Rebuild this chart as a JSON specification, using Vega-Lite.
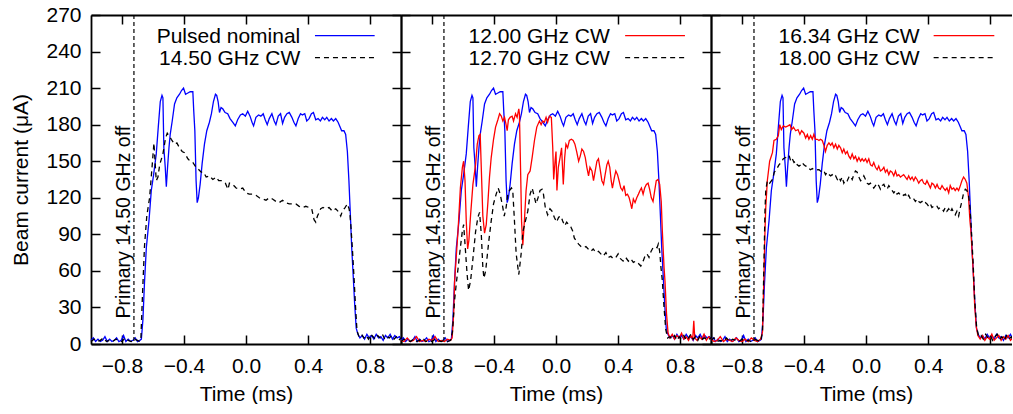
{
 "$schema": "https://vega.github.io/schema/vega-lite/v6.json",
 "background": "white",
 "padding": {"left": 10, "top": 4, "right": 0, "bottom": 0},
 "bounds": "flush",
 "spacing": 0,
 "config": {
  "font": "Liberation Sans",
  "view": {"stroke": null},
  "axis": {"grid": false, "domainColor": "black", "domainWidth": 1.8, "tickColor": "black", "tickWidth": 1.5, "tickSize": -9, "labelFontSize": 21, "titleFontSize": 21, "titleFontWeight": "normal", "labelColor": "black", "titleColor": "black", "labelFont": "Liberation Sans", "titleFont": "Liberation Sans", "labelFlush": false, "labelOverlap": false},
  "axisBottom": {"labelPadding": 20.5, "titlePadding": 6.5},
  "axisLeft": {"labelPadding": 19, "titlePadding": 14},
  "text": {"font": "Liberation Sans", "fontSize": 21}
 },
 "datasets": {
  "blue": [{"t":-1,"i":3},{"t":-0.985,"i":5},{"t":-0.97,"i":2},{"t":-0.955,"i":4},{"t":-0.94,"i":2},{"t":-0.925,"i":3},{"t":-0.91,"i":6},{"t":-0.895,"i":2},{"t":-0.88,"i":4},{"t":-0.865,"i":2},{"t":-0.85,"i":3},{"t":-0.835,"i":5},{"t":-0.82,"i":2},{"t":-0.805,"i":3},{"t":-0.79,"i":7},{"t":-0.775,"i":2},{"t":-0.76,"i":4},{"t":-0.745,"i":2},{"t":-0.73,"i":3},{"t":-0.715,"i":5},{"t":-0.7,"i":2},{"t":-0.685,"i":3},{"t":-0.675,"i":4},{"t":-0.665,"i":20},{"t":-0.655,"i":50},{"t":-0.643,"i":79},{"t":-0.626,"i":101},{"t":-0.611,"i":126},{"t":-0.596,"i":139},{"t":-0.579,"i":156},{"t":-0.566,"i":178},{"t":-0.553,"i":199},{"t":-0.542,"i":204},{"t":-0.536,"i":202},{"t":-0.53,"i":161},{"t":-0.521,"i":145},{"t":-0.514,"i":129},{"t":-0.506,"i":145},{"t":-0.497,"i":161},{"t":-0.489,"i":172},{"t":-0.476,"i":183},{"t":-0.461,"i":197},{"t":-0.446,"i":202},{"t":-0.429,"i":205},{"t":-0.416,"i":208},{"t":-0.403,"i":210},{"t":-0.39,"i":205},{"t":-0.375,"i":206},{"t":-0.36,"i":207},{"t":-0.343,"i":207},{"t":-0.337,"i":191},{"t":-0.33,"i":175},{"t":-0.322,"i":134},{"t":-0.315,"i":116},{"t":-0.307,"i":120},{"t":-0.296,"i":131},{"t":-0.283,"i":148},{"t":-0.268,"i":164},{"t":-0.253,"i":175},{"t":-0.236,"i":182},{"t":-0.223,"i":189},{"t":-0.21,"i":199},{"t":-0.197,"i":205},{"t":-0.189,"i":204},{"t":-0.18,"i":199},{"t":-0.171,"i":190},{"t":-0.161,"i":194},{"t":-0.15,"i":193},{"t":-0.135,"i":190},{"t":-0.118,"i":189},{"t":-0.103,"i":185},{"t":-0.086,"i":182},{"t":-0.069,"i":179},{"t":-0.054,"i":184},{"t":-0.036,"i":188},{"t":-0.021,"i":189},{"t":-0.004,"i":187},{"t":0.011,"i":191},{"t":0.026,"i":187},{"t":0.039,"i":182},{"t":0.049,"i":179},{"t":0.064,"i":186},{"t":0.081,"i":188},{"t":0.096,"i":187},{"t":0.111,"i":189},{"t":0.124,"i":184},{"t":0.137,"i":180},{"t":0.15,"i":185},{"t":0.167,"i":189},{"t":0.182,"i":183},{"t":0.193,"i":180},{"t":0.208,"i":187},{"t":0.223,"i":189},{"t":0.236,"i":181},{"t":0.249,"i":186},{"t":0.264,"i":189},{"t":0.279,"i":190},{"t":0.296,"i":186},{"t":0.309,"i":182},{"t":0.322,"i":179},{"t":0.337,"i":185},{"t":0.352,"i":189},{"t":0.364,"i":188},{"t":0.379,"i":189},{"t":0.392,"i":183},{"t":0.407,"i":185},{"t":0.422,"i":189},{"t":0.435,"i":190},{"t":0.45,"i":184},{"t":0.465,"i":185},{"t":0.48,"i":183},{"t":0.493,"i":186},{"t":0.508,"i":184},{"t":0.521,"i":186},{"t":0.536,"i":183},{"t":0.551,"i":185},{"t":0.564,"i":183},{"t":0.579,"i":185},{"t":0.594,"i":182},{"t":0.607,"i":178},{"t":0.617,"i":175},{"t":0.632,"i":175},{"t":0.643,"i":172},{"t":0.654,"i":158},{"t":0.664,"i":134},{"t":0.675,"i":101},{"t":0.682,"i":79},{"t":0.69,"i":60},{"t":0.701,"i":33},{"t":0.711,"i":13},{"t":0.722,"i":8},{"t":0.735,"i":5},{"t":0.75,"i":7},{"t":0.765,"i":4},{"t":0.78,"i":8},{"t":0.795,"i":5},{"t":0.81,"i":7},{"t":0.825,"i":4},{"t":0.84,"i":8},{"t":0.855,"i":5},{"t":0.87,"i":6},{"t":0.885,"i":3},{"t":0.9,"i":7},{"t":0.915,"i":5},{"t":0.93,"i":8},{"t":0.945,"i":4},{"t":0.96,"i":7},{"t":0.975,"i":5},{"t":0.99,"i":6},{"t":1,"i":4}],
  "c1450": [{"t":-1,"i":2},{"t":-0.98,"i":4},{"t":-0.96,"i":2},{"t":-0.94,"i":3},{"t":-0.92,"i":5},{"t":-0.9,"i":2},{"t":-0.88,"i":3},{"t":-0.86,"i":2},{"t":-0.84,"i":4},{"t":-0.82,"i":3},{"t":-0.8,"i":2},{"t":-0.78,"i":5},{"t":-0.76,"i":3},{"t":-0.74,"i":2},{"t":-0.72,"i":4},{"t":-0.7,"i":3},{"t":-0.685,"i":2},{"t":-0.678,"i":5},{"t":-0.668,"i":40},{"t":-0.655,"i":80},{"t":-0.64,"i":105},{"t":-0.622,"i":120},{"t":-0.605,"i":147},{"t":-0.594,"i":165},{"t":-0.579,"i":134},{"t":-0.568,"i":137},{"t":-0.557,"i":147},{"t":-0.536,"i":156},{"t":-0.519,"i":169},{"t":-0.508,"i":173},{"t":-0.497,"i":171},{"t":-0.482,"i":168},{"t":-0.461,"i":164},{"t":-0.446,"i":165},{"t":-0.429,"i":161},{"t":-0.412,"i":158},{"t":-0.397,"i":157},{"t":-0.375,"i":152},{"t":-0.36,"i":150},{"t":-0.343,"i":149},{"t":-0.322,"i":145},{"t":-0.304,"i":143},{"t":-0.289,"i":141},{"t":-0.274,"i":141},{"t":-0.257,"i":137},{"t":-0.236,"i":138},{"t":-0.214,"i":135},{"t":-0.193,"i":137},{"t":-0.176,"i":134},{"t":-0.154,"i":134},{"t":-0.133,"i":132},{"t":-0.116,"i":127},{"t":-0.107,"i":132},{"t":-0.086,"i":131},{"t":-0.064,"i":128},{"t":-0.043,"i":127},{"t":-0.021,"i":128},{"t":0,"i":124},{"t":0.021,"i":123},{"t":0.043,"i":123},{"t":0.064,"i":122},{"t":0.086,"i":120},{"t":0.107,"i":119},{"t":0.129,"i":118},{"t":0.15,"i":120},{"t":0.171,"i":119},{"t":0.193,"i":117},{"t":0.214,"i":116},{"t":0.236,"i":118},{"t":0.257,"i":116},{"t":0.279,"i":115},{"t":0.3,"i":115},{"t":0.322,"i":115},{"t":0.343,"i":113},{"t":0.364,"i":112},{"t":0.386,"i":113},{"t":0.407,"i":112},{"t":0.424,"i":111},{"t":0.439,"i":102},{"t":0.45,"i":100},{"t":0.461,"i":105},{"t":0.472,"i":108},{"t":0.482,"i":111},{"t":0.497,"i":112},{"t":0.514,"i":111},{"t":0.536,"i":112},{"t":0.557,"i":109},{"t":0.579,"i":111},{"t":0.6,"i":108},{"t":0.611,"i":105},{"t":0.622,"i":109},{"t":0.639,"i":112},{"t":0.654,"i":115},{"t":0.665,"i":111},{"t":0.671,"i":106},{"t":0.677,"i":96},{"t":0.686,"i":79},{"t":0.698,"i":52},{"t":0.707,"i":30},{"t":0.716,"i":11},{"t":0.729,"i":6},{"t":0.745,"i":8},{"t":0.76,"i":5},{"t":0.775,"i":7},{"t":0.79,"i":4},{"t":0.805,"i":8},{"t":0.82,"i":6},{"t":0.835,"i":4},{"t":0.85,"i":7},{"t":0.865,"i":5},{"t":0.88,"i":8},{"t":0.895,"i":4},{"t":0.91,"i":6},{"t":0.925,"i":5},{"t":0.94,"i":7},{"t":0.955,"i":4},{"t":0.97,"i":6},{"t":0.985,"i":3},{"t":1,"i":5}],
  "c1200": [{"t":-1,"i":3},{"t":-0.98,"i":2},{"t":-0.96,"i":5},{"t":-0.94,"i":2},{"t":-0.92,"i":3},{"t":-0.9,"i":6},{"t":-0.88,"i":2},{"t":-0.86,"i":3},{"t":-0.84,"i":2},{"t":-0.82,"i":4},{"t":-0.8,"i":3},{"t":-0.78,"i":6},{"t":-0.76,"i":2},{"t":-0.74,"i":3},{"t":-0.72,"i":2},{"t":-0.7,"i":4},{"t":-0.68,"i":3},{"t":-0.67,"i":5},{"t":-0.66,"i":25},{"t":-0.654,"i":52},{"t":-0.632,"i":93},{"t":-0.617,"i":128},{"t":-0.604,"i":145},{"t":-0.596,"i":150},{"t":-0.587,"i":134},{"t":-0.579,"i":101},{"t":-0.57,"i":78},{"t":-0.562,"i":85},{"t":-0.551,"i":106},{"t":-0.536,"i":131},{"t":-0.519,"i":147},{"t":-0.508,"i":164},{"t":-0.497,"i":171},{"t":-0.489,"i":172},{"t":-0.472,"i":105},{"t":-0.461,"i":91},{"t":-0.45,"i":98},{"t":-0.439,"i":117},{"t":-0.429,"i":137},{"t":-0.418,"i":153},{"t":-0.403,"i":168},{"t":-0.39,"i":178},{"t":-0.375,"i":184},{"t":-0.364,"i":189},{"t":-0.353,"i":187},{"t":-0.343,"i":183},{"t":-0.332,"i":186},{"t":-0.322,"i":180},{"t":-0.315,"i":175},{"t":-0.307,"i":184},{"t":-0.296,"i":186},{"t":-0.283,"i":187},{"t":-0.274,"i":183},{"t":-0.261,"i":189},{"t":-0.251,"i":186},{"t":-0.24,"i":193},{"t":-0.236,"i":189},{"t":-0.228,"i":140},{"t":-0.222,"i":100},{"t":-0.214,"i":81},{"t":-0.204,"i":101},{"t":-0.193,"i":126},{"t":-0.182,"i":139},{"t":-0.167,"i":142},{"t":-0.154,"i":153},{"t":-0.139,"i":167},{"t":-0.124,"i":178},{"t":-0.107,"i":183},{"t":-0.096,"i":180},{"t":-0.086,"i":183},{"t":-0.075,"i":182},{"t":-0.064,"i":186},{"t":-0.054,"i":182},{"t":-0.043,"i":187},{"t":-0.03,"i":186},{"t":-0.021,"i":161},{"t":-0.015,"i":135},{"t":-0.006,"i":150},{"t":0,"i":158},{"t":0.006,"i":126},{"t":0.015,"i":145},{"t":0.026,"i":153},{"t":0.036,"i":161},{"t":0.047,"i":131},{"t":0.056,"i":153},{"t":0.064,"i":164},{"t":0.075,"i":161},{"t":0.086,"i":167},{"t":0.099,"i":168},{"t":0.111,"i":167},{"t":0.122,"i":164},{"t":0.133,"i":158},{"t":0.146,"i":150},{"t":0.156,"i":154},{"t":0.167,"i":160},{"t":0.178,"i":158},{"t":0.189,"i":153},{"t":0.199,"i":145},{"t":0.21,"i":138},{"t":0.219,"i":145},{"t":0.232,"i":142},{"t":0.242,"i":134},{"t":0.253,"i":142},{"t":0.264,"i":150},{"t":0.274,"i":152},{"t":0.283,"i":145},{"t":0.296,"i":134},{"t":0.307,"i":131},{"t":0.317,"i":139},{"t":0.328,"i":147},{"t":0.337,"i":150},{"t":0.347,"i":145},{"t":0.356,"i":134},{"t":0.364,"i":128},{"t":0.377,"i":137},{"t":0.386,"i":142},{"t":0.397,"i":139},{"t":0.407,"i":134},{"t":0.418,"i":128},{"t":0.429,"i":126},{"t":0.439,"i":130},{"t":0.45,"i":122},{"t":0.461,"i":123},{"t":0.472,"i":120},{"t":0.482,"i":115},{"t":0.489,"i":111},{"t":0.499,"i":119},{"t":0.51,"i":116},{"t":0.521,"i":120},{"t":0.532,"i":123},{"t":0.542,"i":126},{"t":0.551,"i":128},{"t":0.562,"i":123},{"t":0.572,"i":128},{"t":0.583,"i":131},{"t":0.594,"i":132},{"t":0.604,"i":127},{"t":0.615,"i":120},{"t":0.626,"i":117},{"t":0.637,"i":126},{"t":0.647,"i":134},{"t":0.658,"i":135},{"t":0.669,"i":131},{"t":0.679,"i":117},{"t":0.686,"i":93},{"t":0.697,"i":63},{"t":0.703,"i":52},{"t":0.713,"i":25},{"t":0.723,"i":9},{"t":0.735,"i":5},{"t":0.75,"i":8},{"t":0.765,"i":4},{"t":0.78,"i":7},{"t":0.795,"i":5},{"t":0.81,"i":9},{"t":0.825,"i":4},{"t":0.84,"i":6},{"t":0.855,"i":3},{"t":0.87,"i":7},{"t":0.882,"i":4},{"t":0.889,"i":19},{"t":0.895,"i":5},{"t":0.91,"i":3},{"t":0.925,"i":6},{"t":0.94,"i":4},{"t":0.955,"i":8},{"t":0.97,"i":3},{"t":0.985,"i":6},{"t":1,"i":4}],
  "c1270": [{"t":-1,"i":2},{"t":-0.98,"i":4},{"t":-0.96,"i":3},{"t":-0.94,"i":2},{"t":-0.92,"i":4},{"t":-0.9,"i":2},{"t":-0.88,"i":3},{"t":-0.86,"i":5},{"t":-0.84,"i":2},{"t":-0.82,"i":3},{"t":-0.8,"i":2},{"t":-0.78,"i":4},{"t":-0.76,"i":3},{"t":-0.74,"i":2},{"t":-0.72,"i":3},{"t":-0.7,"i":2},{"t":-0.68,"i":3},{"t":-0.668,"i":10},{"t":-0.655,"i":35},{"t":-0.643,"i":50},{"t":-0.632,"i":62},{"t":-0.617,"i":79},{"t":-0.604,"i":93},{"t":-0.596,"i":98},{"t":-0.587,"i":82},{"t":-0.574,"i":58},{"t":-0.564,"i":44},{"t":-0.551,"i":52},{"t":-0.536,"i":70},{"t":-0.519,"i":92},{"t":-0.504,"i":104},{"t":-0.493,"i":108},{"t":-0.482,"i":90},{"t":-0.472,"i":63},{"t":-0.465,"i":54},{"t":-0.454,"i":60},{"t":-0.433,"i":85},{"t":-0.418,"i":101},{"t":-0.403,"i":115},{"t":-0.386,"i":123},{"t":-0.373,"i":128},{"t":-0.36,"i":123},{"t":-0.343,"i":112},{"t":-0.334,"i":105},{"t":-0.322,"i":112},{"t":-0.311,"i":123},{"t":-0.3,"i":126},{"t":-0.287,"i":128},{"t":-0.279,"i":126},{"t":-0.268,"i":101},{"t":-0.257,"i":74},{"t":-0.24,"i":57},{"t":-0.225,"i":74},{"t":-0.214,"i":92},{"t":-0.197,"i":101},{"t":-0.182,"i":109},{"t":-0.167,"i":123},{"t":-0.154,"i":128},{"t":-0.144,"i":123},{"t":-0.129,"i":115},{"t":-0.116,"i":120},{"t":-0.103,"i":126},{"t":-0.09,"i":127},{"t":-0.081,"i":123},{"t":-0.069,"i":112},{"t":-0.054,"i":106},{"t":-0.039,"i":111},{"t":-0.026,"i":109},{"t":-0.011,"i":104},{"t":0.004,"i":100},{"t":0.017,"i":104},{"t":0.032,"i":105},{"t":0.043,"i":101},{"t":0.056,"i":97},{"t":0.069,"i":100},{"t":0.081,"i":98},{"t":0.096,"i":96},{"t":0.107,"i":93},{"t":0.118,"i":87},{"t":0.129,"i":85},{"t":0.146,"i":82},{"t":0.161,"i":80},{"t":0.178,"i":79},{"t":0.193,"i":80},{"t":0.208,"i":78},{"t":0.225,"i":76},{"t":0.24,"i":78},{"t":0.257,"i":75},{"t":0.274,"i":76},{"t":0.289,"i":74},{"t":0.304,"i":72},{"t":0.322,"i":75},{"t":0.337,"i":71},{"t":0.354,"i":72},{"t":0.369,"i":70},{"t":0.386,"i":71},{"t":0.401,"i":74},{"t":0.416,"i":70},{"t":0.433,"i":68},{"t":0.45,"i":71},{"t":0.467,"i":68},{"t":0.482,"i":70},{"t":0.499,"i":67},{"t":0.514,"i":68},{"t":0.532,"i":66},{"t":0.547,"i":64},{"t":0.562,"i":68},{"t":0.574,"i":72},{"t":0.587,"i":74},{"t":0.6,"i":71},{"t":0.613,"i":76},{"t":0.626,"i":79},{"t":0.639,"i":80},{"t":0.652,"i":79},{"t":0.66,"i":82},{"t":0.669,"i":76},{"t":0.677,"i":63},{"t":0.686,"i":52},{"t":0.697,"i":30},{"t":0.708,"i":12},{"t":0.72,"i":5},{"t":0.735,"i":6},{"t":0.75,"i":4},{"t":0.765,"i":7},{"t":0.78,"i":3},{"t":0.795,"i":6},{"t":0.81,"i":4},{"t":0.825,"i":7},{"t":0.84,"i":3},{"t":0.855,"i":5},{"t":0.87,"i":8},{"t":0.885,"i":4},{"t":0.9,"i":6},{"t":0.915,"i":3},{"t":0.93,"i":7},{"t":0.945,"i":4},{"t":0.96,"i":5},{"t":0.975,"i":3},{"t":1,"i":5}],
  "c1634": [{"t":-1,"i":4},{"t":-0.98,"i":2},{"t":-0.96,"i":3},{"t":-0.94,"i":6},{"t":-0.92,"i":2},{"t":-0.9,"i":4},{"t":-0.88,"i":3},{"t":-0.86,"i":2},{"t":-0.84,"i":5},{"t":-0.82,"i":3},{"t":-0.8,"i":2},{"t":-0.78,"i":4},{"t":-0.76,"i":2},{"t":-0.74,"i":5},{"t":-0.72,"i":3},{"t":-0.7,"i":2},{"t":-0.68,"i":4},{"t":-0.668,"i":10},{"t":-0.658,"i":60},{"t":-0.652,"i":93},{"t":-0.647,"i":112},{"t":-0.637,"i":134},{"t":-0.622,"i":150},{"t":-0.604,"i":157},{"t":-0.594,"i":167},{"t":-0.579,"i":168},{"t":-0.566,"i":171},{"t":-0.557,"i":180},{"t":-0.547,"i":176},{"t":-0.534,"i":179},{"t":-0.519,"i":178},{"t":-0.504,"i":179},{"t":-0.491,"i":180},{"t":-0.48,"i":176},{"t":-0.469,"i":178},{"t":-0.454,"i":175},{"t":-0.439,"i":176},{"t":-0.427,"i":172},{"t":-0.416,"i":175},{"t":-0.401,"i":173},{"t":-0.39,"i":169},{"t":-0.379,"i":172},{"t":-0.369,"i":168},{"t":-0.358,"i":171},{"t":-0.347,"i":168},{"t":-0.337,"i":172},{"t":-0.326,"i":168},{"t":-0.315,"i":168},{"t":-0.304,"i":167},{"t":-0.294,"i":168},{"t":-0.283,"i":167},{"t":-0.272,"i":163},{"t":-0.262,"i":158},{"t":-0.251,"i":163},{"t":-0.24,"i":165},{"t":-0.229,"i":163},{"t":-0.219,"i":165},{"t":-0.208,"i":161},{"t":-0.197,"i":164},{"t":-0.186,"i":160},{"t":-0.176,"i":163},{"t":-0.165,"i":161},{"t":-0.154,"i":157},{"t":-0.144,"i":160},{"t":-0.133,"i":156},{"t":-0.122,"i":158},{"t":-0.111,"i":154},{"t":-0.101,"i":152},{"t":-0.09,"i":156},{"t":-0.079,"i":152},{"t":-0.069,"i":154},{"t":-0.058,"i":150},{"t":-0.047,"i":153},{"t":-0.036,"i":150},{"t":-0.026,"i":152},{"t":-0.015,"i":150},{"t":-0.004,"i":152},{"t":0.006,"i":149},{"t":0.017,"i":152},{"t":0.028,"i":147},{"t":0.039,"i":146},{"t":0.049,"i":149},{"t":0.06,"i":145},{"t":0.071,"i":143},{"t":0.081,"i":146},{"t":0.092,"i":142},{"t":0.103,"i":143},{"t":0.114,"i":145},{"t":0.124,"i":141},{"t":0.135,"i":143},{"t":0.146,"i":139},{"t":0.156,"i":142},{"t":0.167,"i":141},{"t":0.178,"i":138},{"t":0.189,"i":142},{"t":0.199,"i":138},{"t":0.21,"i":139},{"t":0.221,"i":137},{"t":0.232,"i":138},{"t":0.242,"i":139},{"t":0.253,"i":137},{"t":0.264,"i":135},{"t":0.274,"i":138},{"t":0.285,"i":135},{"t":0.296,"i":137},{"t":0.307,"i":134},{"t":0.317,"i":137},{"t":0.328,"i":135},{"t":0.339,"i":132},{"t":0.349,"i":134},{"t":0.36,"i":135},{"t":0.371,"i":132},{"t":0.382,"i":131},{"t":0.392,"i":134},{"t":0.403,"i":131},{"t":0.414,"i":128},{"t":0.424,"i":132},{"t":0.435,"i":131},{"t":0.446,"i":128},{"t":0.457,"i":131},{"t":0.467,"i":128},{"t":0.478,"i":127},{"t":0.489,"i":130},{"t":0.499,"i":128},{"t":0.51,"i":126},{"t":0.521,"i":128},{"t":0.532,"i":124},{"t":0.542,"i":130},{"t":0.553,"i":127},{"t":0.564,"i":128},{"t":0.574,"i":126},{"t":0.585,"i":128},{"t":0.596,"i":126},{"t":0.607,"i":130},{"t":0.617,"i":134},{"t":0.628,"i":137},{"t":0.639,"i":135},{"t":0.649,"i":132},{"t":0.66,"i":120},{"t":0.669,"i":101},{"t":0.675,"i":93},{"t":0.69,"i":60},{"t":0.7,"i":30},{"t":0.71,"i":14},{"t":0.72,"i":7},{"t":0.735,"i":4},{"t":0.75,"i":7},{"t":0.765,"i":3},{"t":0.78,"i":6},{"t":0.795,"i":4},{"t":0.81,"i":8},{"t":0.825,"i":3},{"t":0.84,"i":5},{"t":0.855,"i":7},{"t":0.87,"i":3},{"t":0.885,"i":6},{"t":0.9,"i":4},{"t":0.915,"i":7},{"t":0.93,"i":3},{"t":0.945,"i":5},{"t":0.96,"i":3},{"t":0.975,"i":6},{"t":1,"i":4}],
  "c1800": [{"t":-1,"i":3},{"t":-0.98,"i":5},{"t":-0.96,"i":2},{"t":-0.94,"i":3},{"t":-0.92,"i":2},{"t":-0.9,"i":5},{"t":-0.88,"i":2},{"t":-0.86,"i":4},{"t":-0.84,"i":3},{"t":-0.82,"i":2},{"t":-0.8,"i":4},{"t":-0.78,"i":2},{"t":-0.76,"i":3},{"t":-0.74,"i":2},{"t":-0.72,"i":4},{"t":-0.7,"i":3},{"t":-0.68,"i":2},{"t":-0.668,"i":10},{"t":-0.658,"i":70},{"t":-0.652,"i":110},{"t":-0.647,"i":126},{"t":-0.637,"i":134},{"t":-0.622,"i":132},{"t":-0.604,"i":135},{"t":-0.592,"i":141},{"t":-0.579,"i":143},{"t":-0.562,"i":147},{"t":-0.547,"i":149},{"t":-0.534,"i":152},{"t":-0.519,"i":153},{"t":-0.508,"i":154},{"t":-0.497,"i":155},{"t":-0.486,"i":150},{"t":-0.476,"i":152},{"t":-0.465,"i":149},{"t":-0.454,"i":150},{"t":-0.444,"i":147},{"t":-0.433,"i":146},{"t":-0.422,"i":147},{"t":-0.412,"i":149},{"t":-0.401,"i":147},{"t":-0.39,"i":146},{"t":-0.379,"i":146},{"t":-0.369,"i":144},{"t":-0.358,"i":143},{"t":-0.347,"i":144},{"t":-0.337,"i":143},{"t":-0.326,"i":143},{"t":-0.315,"i":143},{"t":-0.304,"i":143},{"t":-0.294,"i":142},{"t":-0.283,"i":141},{"t":-0.272,"i":142},{"t":-0.262,"i":139},{"t":-0.251,"i":141},{"t":-0.24,"i":139},{"t":-0.229,"i":138},{"t":-0.219,"i":139},{"t":-0.208,"i":137},{"t":-0.197,"i":138},{"t":-0.186,"i":135},{"t":-0.176,"i":137},{"t":-0.165,"i":134},{"t":-0.154,"i":137},{"t":-0.144,"i":132},{"t":-0.133,"i":135},{"t":-0.122,"i":134},{"t":-0.111,"i":137},{"t":-0.101,"i":138},{"t":-0.09,"i":135},{"t":-0.079,"i":139},{"t":-0.069,"i":142},{"t":-0.058,"i":141},{"t":-0.047,"i":137},{"t":-0.036,"i":134},{"t":-0.026,"i":135},{"t":-0.015,"i":138},{"t":-0.004,"i":135},{"t":0.006,"i":132},{"t":0.017,"i":131},{"t":0.028,"i":132},{"t":0.039,"i":130},{"t":0.049,"i":128},{"t":0.06,"i":130},{"t":0.071,"i":132},{"t":0.081,"i":130},{"t":0.092,"i":127},{"t":0.103,"i":130},{"t":0.114,"i":131},{"t":0.124,"i":128},{"t":0.135,"i":127},{"t":0.146,"i":130},{"t":0.156,"i":128},{"t":0.167,"i":126},{"t":0.178,"i":124},{"t":0.189,"i":126},{"t":0.199,"i":123},{"t":0.21,"i":124},{"t":0.221,"i":122},{"t":0.232,"i":123},{"t":0.242,"i":122},{"t":0.253,"i":123},{"t":0.264,"i":120},{"t":0.274,"i":122},{"t":0.285,"i":119},{"t":0.296,"i":120},{"t":0.307,"i":119},{"t":0.317,"i":117},{"t":0.328,"i":119},{"t":0.339,"i":117},{"t":0.349,"i":116},{"t":0.36,"i":117},{"t":0.371,"i":115},{"t":0.382,"i":116},{"t":0.392,"i":115},{"t":0.403,"i":113},{"t":0.414,"i":115},{"t":0.424,"i":112},{"t":0.435,"i":113},{"t":0.446,"i":112},{"t":0.457,"i":113},{"t":0.467,"i":111},{"t":0.478,"i":112},{"t":0.489,"i":111},{"t":0.499,"i":109},{"t":0.51,"i":112},{"t":0.521,"i":109},{"t":0.532,"i":111},{"t":0.542,"i":108},{"t":0.553,"i":111},{"t":0.564,"i":108},{"t":0.574,"i":106},{"t":0.585,"i":109},{"t":0.596,"i":105},{"t":0.607,"i":112},{"t":0.617,"i":117},{"t":0.628,"i":124},{"t":0.639,"i":127},{"t":0.649,"i":126},{"t":0.66,"i":122},{"t":0.669,"i":112},{"t":0.677,"i":96},{"t":0.69,"i":65},{"t":0.7,"i":35},{"t":0.712,"i":14},{"t":0.725,"i":6},{"t":0.74,"i":7},{"t":0.755,"i":4},{"t":0.77,"i":8},{"t":0.785,"i":5},{"t":0.8,"i":7},{"t":0.815,"i":3},{"t":0.83,"i":6},{"t":0.845,"i":8},{"t":0.86,"i":4},{"t":0.875,"i":6},{"t":0.89,"i":3},{"t":0.905,"i":7},{"t":0.92,"i":4},{"t":0.935,"i":6},{"t":0.95,"i":3},{"t":0.965,"i":5},{"t":0.98,"i":4},{"t":1,"i":6}]
 },
 "hconcat": [
  {
   "width": 310, "height": 329,
   "layer": [
    {"data": {"name": "blue"}, "mark": {"type": "line", "color": "#0000ff", "strokeWidth": 1.3},
     "encoding": {
      "x": {"field": "t", "type": "quantitative", "scale": {"domain": [-1, 1], "nice": false, "zero": false}, "axis": {"orient": "bottom", "values": [-0.8, -0.4, 0, 0.4, 0.8], "format": ".1f", "title": "Time (ms)"}},
      "y": {"field": "i", "type": "quantitative", "scale": {"domain": [0, 270], "nice": false}, "axis": {"orient": "left", "values": [0, 30, 60, 90, 120, 150, 180, 210, 240, 270], "title": "Beam current (μA)"}}}},
    {"data": {"name": "c1450"}, "mark": {"type": "line", "color": "black", "strokeWidth": 1.3, "strokeDash": [5, 4]},
     "encoding": {
      "x": {"field": "t", "type": "quantitative", "axis": {"orient": "top", "values": [-0.8, -0.4, 0, 0.4, 0.8], "labels": false, "title": null}},
      "y": {"field": "i", "type": "quantitative", "axis": {"orient": "right", "values": [0, 30, 60, 90, 120, 150, 180, 210, 240, 270], "labels": false, "title": null}}}},
    {"data": {"values": [{}]}, "mark": {"type": "rule", "color": "black", "strokeWidth": 1.2, "strokeDash": [4, 3]},
     "encoding": {"x": {"datum": -0.723, "axis": null}}},
    {"data": {"values": [{}]}, "mark": {"type": "text", "angle": 270, "align": "center", "baseline": "middle", "fontSize": 19.5},
     "encoding": {"x": {"datum": -0.79, "axis": null}, "y": {"datum": 100, "axis": null}, "text": {"value": "Primary 14.50 GHz off"}}},
    {"data": {"values": [{}]}, "mark": {"type": "text", "align": "right", "baseline": "middle", "fontSize": 21},
     "encoding": {"x": {"datum": 0.35, "axis": null}, "y": {"datum": 252, "axis": null}, "text": {"value": "Pulsed nominal"}}},
    {"data": {"values": [{}]}, "mark": {"type": "text", "align": "right", "baseline": "middle", "fontSize": 21},
     "encoding": {"x": {"datum": 0.35, "axis": null}, "y": {"datum": 234, "axis": null}, "text": {"value": "14.50 GHz CW"}}},
    {"data": {"values": [{}]}, "mark": {"type": "rule", "color": "#0000ff", "strokeWidth": 1.3},
     "encoding": {"x": {"datum": 0.445, "axis": null}, "x2": {"datum": 0.83}, "y": {"datum": 253, "axis": null}}},
    {"data": {"values": [{}]}, "mark": {"type": "rule", "color": "black", "strokeWidth": 1.3, "strokeDash": [5, 4]},
     "encoding": {"x": {"datum": 0.445, "axis": null}, "x2": {"datum": 0.83}, "y": {"datum": 235, "axis": null}}}
   ],
   "resolve": {"axis": {"x": "independent", "y": "independent"}}
  },
  {
   "width": 310, "height": 329,
   "layer": [
    {"data": {"name": "blue"}, "mark": {"type": "line", "color": "#0000ff", "strokeWidth": 1.3},
     "encoding": {
      "x": {"field": "t", "type": "quantitative", "scale": {"domain": [-1, 1], "nice": false, "zero": false}, "axis": {"orient": "bottom", "values": [-0.8, -0.4, 0, 0.4, 0.8], "format": ".1f", "title": "Time (ms)"}},
      "y": {"field": "i", "type": "quantitative", "scale": {"domain": [0, 270], "nice": false}, "axis": {"orient": "left", "values": [0, 30, 60, 90, 120, 150, 180, 210, 240, 270], "labels": false, "title": null}}}},
    {"data": {"name": "c1200"}, "mark": {"type": "line", "color": "#ff0000", "strokeWidth": 1.3},
     "encoding": {"x": {"field": "t", "type": "quantitative", "axis": null}, "y": {"field": "i", "type": "quantitative", "axis": null}}},
    {"data": {"name": "c1270"}, "mark": {"type": "line", "color": "black", "strokeWidth": 1.3, "strokeDash": [5, 4]},
     "encoding": {
      "x": {"field": "t", "type": "quantitative", "axis": {"orient": "top", "values": [-0.8, -0.4, 0, 0.4, 0.8], "labels": false, "title": null}},
      "y": {"field": "i", "type": "quantitative", "axis": {"orient": "right", "values": [0, 30, 60, 90, 120, 150, 180, 210, 240, 270], "labels": false, "title": null}}}},
    {"data": {"values": [{}]}, "mark": {"type": "rule", "color": "black", "strokeWidth": 1.2, "strokeDash": [4, 3]},
     "encoding": {"x": {"datum": -0.723, "axis": null}}},
    {"data": {"values": [{}]}, "mark": {"type": "text", "angle": 270, "align": "center", "baseline": "middle", "fontSize": 19.5},
     "encoding": {"x": {"datum": -0.79, "axis": null}, "y": {"datum": 100, "axis": null}, "text": {"value": "Primary 14.50 GHz off"}}},
    {"data": {"values": [{}]}, "mark": {"type": "text", "align": "right", "baseline": "middle", "fontSize": 21},
     "encoding": {"x": {"datum": 0.347, "axis": null}, "y": {"datum": 252, "axis": null}, "text": {"value": "12.00 GHz CW"}}},
    {"data": {"values": [{}]}, "mark": {"type": "text", "align": "right", "baseline": "middle", "fontSize": 21},
     "encoding": {"x": {"datum": 0.347, "axis": null}, "y": {"datum": 234, "axis": null}, "text": {"value": "12.70 GHz CW"}}},
    {"data": {"values": [{}]}, "mark": {"type": "rule", "color": "#ff0000", "strokeWidth": 1.3},
     "encoding": {"x": {"datum": 0.446, "axis": null}, "x2": {"datum": 0.832}, "y": {"datum": 253, "axis": null}}},
    {"data": {"values": [{}]}, "mark": {"type": "rule", "color": "black", "strokeWidth": 1.3, "strokeDash": [5, 4]},
     "encoding": {"x": {"datum": 0.446, "axis": null}, "x2": {"datum": 0.832}, "y": {"datum": 235, "axis": null}}}
   ],
   "resolve": {"axis": {"x": "independent", "y": "independent"}}
  },
  {
   "width": 301, "height": 329,
   "layer": [
    {"data": {"name": "blue"}, "mark": {"type": "line", "color": "#0000ff", "strokeWidth": 1.3, "clip": true},
     "encoding": {
      "x": {"field": "t", "type": "quantitative", "scale": {"domain": [-1, 0.94], "nice": false, "zero": false}, "axis": {"orient": "bottom", "values": [-0.8, -0.4, 0, 0.4, 0.8], "format": ".1f", "title": "Time (ms)", "titleX": 155}},
      "y": {"field": "i", "type": "quantitative", "scale": {"domain": [0, 270], "nice": false}, "axis": {"orient": "left", "values": [0, 30, 60, 90, 120, 150, 180, 210, 240, 270], "labels": false, "title": null}}}},
    {"data": {"name": "c1634"}, "mark": {"type": "line", "color": "#ff0000", "strokeWidth": 1.3, "clip": true},
     "encoding": {"x": {"field": "t", "type": "quantitative", "axis": null}, "y": {"field": "i", "type": "quantitative", "axis": null}}},
    {"data": {"name": "c1800"}, "mark": {"type": "line", "color": "black", "strokeWidth": 1.3, "strokeDash": [5, 4], "clip": true},
     "encoding": {
      "x": {"field": "t", "type": "quantitative", "axis": {"orient": "top", "values": [-0.8, -0.4, 0, 0.4, 0.8], "labels": false, "title": null}},
      "y": {"field": "i", "type": "quantitative", "axis": null}}},
    {"data": {"values": [{}]}, "mark": {"type": "rule", "color": "black", "strokeWidth": 1.2, "strokeDash": [4, 3]},
     "encoding": {"x": {"datum": -0.723, "axis": null}}},
    {"data": {"values": [{}]}, "mark": {"type": "text", "angle": 270, "align": "center", "baseline": "middle", "fontSize": 19.5},
     "encoding": {"x": {"datum": -0.79, "axis": null}, "y": {"datum": 100, "axis": null}, "text": {"value": "Primary 14.50 GHz off"}}},
    {"data": {"values": [{}]}, "mark": {"type": "text", "align": "right", "baseline": "middle", "fontSize": 21},
     "encoding": {"x": {"datum": 0.345, "axis": null}, "y": {"datum": 252, "axis": null}, "text": {"value": "16.34 GHz CW"}}},
    {"data": {"values": [{}]}, "mark": {"type": "text", "align": "right", "baseline": "middle", "fontSize": 21},
     "encoding": {"x": {"datum": 0.345, "axis": null}, "y": {"datum": 234, "axis": null}, "text": {"value": "18.00 GHz CW"}}},
    {"data": {"values": [{}]}, "mark": {"type": "rule", "color": "#ff0000", "strokeWidth": 1.3},
     "encoding": {"x": {"datum": 0.435, "axis": null}, "x2": {"datum": 0.826}, "y": {"datum": 253, "axis": null}}},
    {"data": {"values": [{}]}, "mark": {"type": "rule", "color": "black", "strokeWidth": 1.3, "strokeDash": [5, 4]},
     "encoding": {"x": {"datum": 0.435, "axis": null}, "x2": {"datum": 0.826}, "y": {"datum": 235, "axis": null}}}
   ],
   "resolve": {"axis": {"x": "independent", "y": "independent"}}
  }
 ]
}
